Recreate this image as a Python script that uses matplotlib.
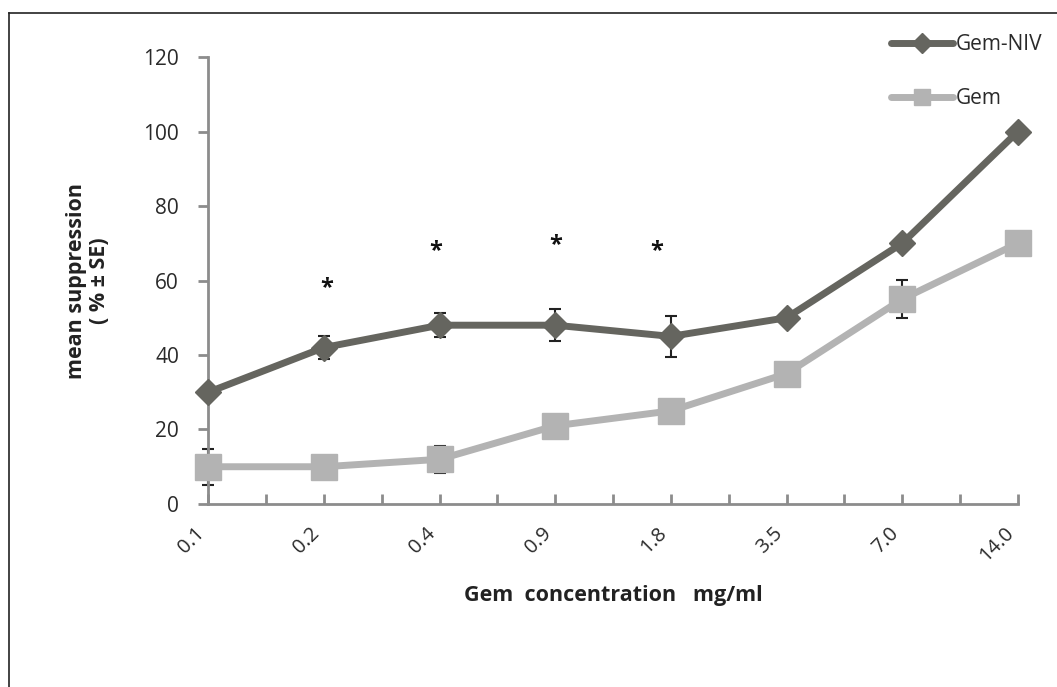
import matplotlib
matplotlib.use("Agg")
import matplotlib.pyplot as plt
from matplotlib.lines import Line2D
import matplotlib.transforms as mtransforms
import numpy as np

plt.rcParams['font.family'] = ['Open Sans', 'DejaVu Sans']

categories = ["0.1", "0.2", "0.4", "0.9", "1.8", "3.5", "7.0", "14.0"]
gem_niv = [30, 42, 48, 48, 45, 50, 70, 100]
gem_niv_err = [0, 3, 3.2, 4.3, 5.6, 0, 0, 0]
gem = [10, 10, 12, 21, 25, 35, 55, 70]
gem_err = [4.8, 0, 3.6, 0, 0, 0, 5.1, 0]
star_idx = [1, 2, 3, 4]
star_y = [58, 68, 69.5, 68]

dark = "#65655f"
light = "#b3b3b3"
axis_col = "#8c8c8c"

fig = plt.figure(figsize=(10.57, 6.87), dpi=100)
ax = fig.add_axes([0.197, 0.2664, 0.766, 0.6506])

x = np.arange(len(categories))

ax.errorbar(x, gem, yerr=gem_err, fmt='none', ecolor='#222222', elinewidth=1.5,
            capsize=4, capthick=1.5, zorder=2, clip_on=False)
ax.errorbar(x, gem_niv, yerr=gem_niv_err, fmt='none', ecolor='#222222', elinewidth=1.5,
            capsize=4, capthick=1.5, zorder=2, clip_on=False)

ax.plot(x, gem, color=light, lw=5, marker='s', ms=19, mfc=light, mec=light,
        label='Gem', zorder=3, clip_on=False, solid_capstyle='round')
ax.plot(x, gem_niv, color=dark, lw=5, marker='D', ms=13.5, mfc=dark, mec=dark,
        label='Gem-NIV', zorder=4, clip_on=False, solid_capstyle='round')

offsets = [0.02, -0.03, 0.0, -0.12]
for i, yy, off in zip(star_idx, star_y, offsets):
    ax.text(x[i] + off, yy, "*", ha='center', va='center', fontsize=17,
            fontweight='bold', color='#111111')

ax.set_xlim(0, len(categories) - 1)
ax.set_ylim(0, 120)
ax.set_yticks(np.arange(0, 121, 20))
ax.set_xticks(x)
ax.set_xticks(np.arange(0.5, len(categories) - 1, 1.0), minor=True)
ax.set_xticklabels(categories, rotation=45, ha='right', va='top', fontsize=14.5,
                   color='#2a2a2a')
shift = mtransforms.ScaledTranslation(8 / 100, -4 / 100, fig.dpi_scale_trans)
for lab in ax.get_xticklabels():
    lab.set_transform(lab.get_transform() + shift)
for lab in ax.get_yticklabels():
    lab.set_fontsize(15)
    lab.set_color('#2a2a2a')

for s in ['top', 'right']:
    ax.spines[s].set_visible(False)
for s in ['left', 'bottom']:
    ax.spines[s].set_color(axis_col)
    ax.spines[s].set_linewidth(2)

ax.tick_params(axis='y', direction='out', length=7, width=2, color=axis_col, pad=14)
ax.tick_params(axis='x', which='both', direction='in', length=7, width=2,
               color=axis_col, pad=14)

ax.set_xlabel("Gem  concentration   mg/ml", fontsize=15.5, fontweight='bold',
              color='#222222', labelpad=14)
ax.set_ylabel("mean suppression\n( % ± SE)", fontsize=15.5, fontweight='bold',
              color='#222222', labelpad=24, linespacing=1.15)

handles = [
    Line2D([], [], color=dark, lw=5, marker='D', ms=10, mfc=dark, mec=dark,
           solid_capstyle='round'),
    Line2D([], [], color=light, lw=5, marker='s', ms=12, mfc=light, mec=light,
           solid_capstyle='round'),
]
leg = fig.legend(handles, ['Gem-NIV', 'Gem'], loc='upper left',
                 bbox_to_anchor=(0.825, 0.978), frameon=False, fontsize=15,
                 handlelength=3.0, handletextpad=0.1, labelspacing=1.6,
                 labelcolor='#2a2a2a')

# partial outer frame (left and top edges)
fig.add_artist(Line2D([9 / 1057, 9 / 1057], [0, 1 - 13 / 687], color='#222222', lw=1.2,
                      transform=fig.transFigure))
fig.add_artist(Line2D([9 / 1057, 1], [1 - 13 / 687, 1 - 13 / 687], color='#222222', lw=1.2,
                      transform=fig.transFigure))

fig.savefig("out.png", dpi=100)
